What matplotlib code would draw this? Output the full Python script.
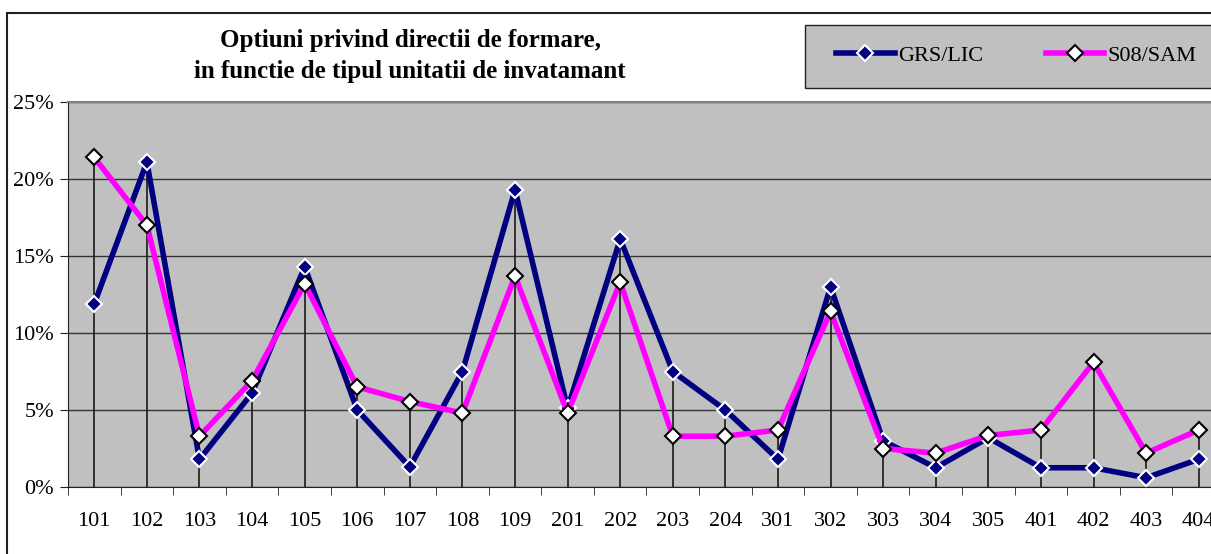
import matplotlib.pyplot as plt
from matplotlib.patches import Rectangle
from matplotlib.ticker import FuncFormatter, MultipleLocator
import numpy as np

codes = ['101', '102', '103', '104', '105', '106', '107', '108', '109', '201', '202',
         '203', '204', '301', '302', '303', '304', '305', '401', '402', '403', '404']
grs_lic = [11.9, 21.1, 1.8, 6.1, 14.3, 5.0, 1.3, 7.5, 19.3, 5.1, 16.1,
           7.5, 5.0, 1.8, 13.0, 3.0, 1.25, 3.2, 1.25, 1.25, 0.6, 1.8]
s08_sam = [21.4, 17.0, 3.3, 6.9, 13.2, 6.5, 5.55, 4.8, 13.7, 4.8, 13.3,
           3.3, 3.3, 3.7, 11.4, 2.5, 2.2, 3.35, 3.7, 8.1, 2.2, 3.7]

plt.rcParams['font.family'] = ['Liberation Serif', 'DejaVu Serif']

W, H = 1211, 554
fig = plt.figure(figsize=(W / 100, H / 100), dpi=100)

# outer chart frame (right and bottom edges run off the page)
fig.patches.append(Rectangle((7 / W, -0.05), 1.1, 1 - 13 / H + 0.05, transform=fig.transFigure,
                             fill=False, edgecolor='#222222', lw=1.5, zorder=-1))
# legend box
fig.patches.append(Rectangle((805 / W, 1 - 88 / H), 0.5, 63 / H, transform=fig.transFigure,
                             facecolor='#C0C0C0', edgecolor='#222222', lw=1, zorder=-1))

ax = fig.add_axes([68 / W, 67 / H, 1157 / W, 385 / H])
ax.set_facecolor('#C0C0C0')
x = np.arange(len(codes))

# drop lines from the higher point down to the axis
top = np.maximum(grs_lic, s08_sam)
ax.vlines(x, 0, top, color='#1a1a1a', lw=1.2, zorder=1)

ax.plot(x, grs_lic, color='#000080', lw=4, marker='D', ms=8, mfc='#000080',
        mec='white', mew=1.5, label='GRS/LIC', zorder=3)
ax.plot(x, s08_sam, color='#FF00FF', lw=4, marker='D', ms=8, mfc='white',
        mec='black', mew=1.5, label='S08/SAM', zorder=3)

ax.set_xlim(-0.5, len(codes) - 0.5)
ax.set_ylim(0, 25)
ax.yaxis.set_major_locator(MultipleLocator(5))
ax.yaxis.set_major_formatter(FuncFormatter(lambda v, p: f'{v:.0f}%'))
ax.grid(axis='y', color='#333333', lw=1)
ax.set_axisbelow(True)

ax.set_xticks(x)
ax.set_xticklabels(codes)
ax.set_xticks(np.arange(-0.5, len(codes)), minor=True)
ax.tick_params(axis='x', which='major', length=0, pad=18, labelsize=16)
ax.tick_params(axis='x', which='minor', length=6, color='#222222', direction='out')
ax.tick_params(axis='y', length=6, color='#222222', labelsize=16, pad=4)

ax.spines['right'].set_visible(False)
ax.spines['top'].set_color('#808080')
ax.spines['top'].set_linewidth(1.5)
ax.spines['left'].set_color('#222222')
ax.spines['bottom'].set_color('#222222')

fig.text(410 / W, 1 - 56 / H, 'Optiuni privind directii de formare,\nin functie de tipul unitatii de invatamant',
         ha='center', va='center', fontsize=18, fontweight='bold', linespacing=1.4)

handles, labels = ax.get_legend_handles_labels()
leg = fig.legend(handles, labels, ncol=2, loc='center left', bbox_to_anchor=(836 / W, 1 - 56 / H),
                 frameon=False, fontsize=16, handlelength=2.65, handletextpad=0.15,
                 columnspacing=2.8, borderpad=0, borderaxespad=0)

fig.savefig('out.png', dpi=100)
